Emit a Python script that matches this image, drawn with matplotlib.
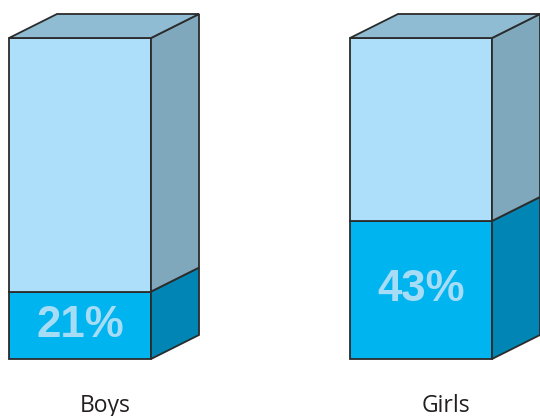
import matplotlib
matplotlib.use("Agg")
import matplotlib.pyplot as plt
from matplotlib.patches import Polygon

categories = ["Boys", "Girls"]
percents = [21, 43]

front_top = "#addffa"
front_low = "#00b4ef"
side_top = "#7fa8bd"
side_low = "#0085b5"
roof = "#8fbcd2"
edge = "#2b2b2b"
pct_color = "#a6dcf6"

# geometry in data units (x: category index, y: percent)
width = 0.4164
dx = 0.1408
dy = 7.48

fig = plt.figure(figsize=(5.4, 4.16), dpi=100)
ax = fig.add_axes([0, 0, 1, 1])
ax.set_xlim(-0.2346, 1.349)
ax.set_ylim(-17.76, 111.84)
ax.axis("off")


def face(pts, color):
    ax.add_patch(Polygon(pts, closed=True, facecolor=color, edgecolor=edge,
                         linewidth=1.3, joinstyle="miter"))


for i, (cat, p) in enumerate(zip(categories, percents)):
    x0 = i - width / 2
    x1 = i + width / 2
    # front faces
    face([(x0, 0), (x1, 0), (x1, p), (x0, p)], front_low)
    face([(x0, p), (x1, p), (x1, 100), (x0, 100)], front_top)
    # right side faces
    face([(x1, 0), (x1 + dx, dy), (x1 + dx, p + dy), (x1, p)], side_low)
    face([(x1, p), (x1 + dx, p + dy), (x1 + dx, 100 + dy), (x1, 100)], side_top)
    # top
    face([(x0, 100), (x1, 100), (x1 + dx, 100 + dy), (x0 + dx, 100 + dy)], roof)

    ax.text(i, p / 2, f"{p}%", ha="center", va="center", color=pct_color,
            fontsize=31.5, fontweight="bold", family="Liberation Sans")
    ax.text(i + 0.073, -14.5, cat, ha="center", va="center", color="#231f20",
            fontsize=16.5, family="Open Sans")

fig.savefig("out.png", dpi=100)
